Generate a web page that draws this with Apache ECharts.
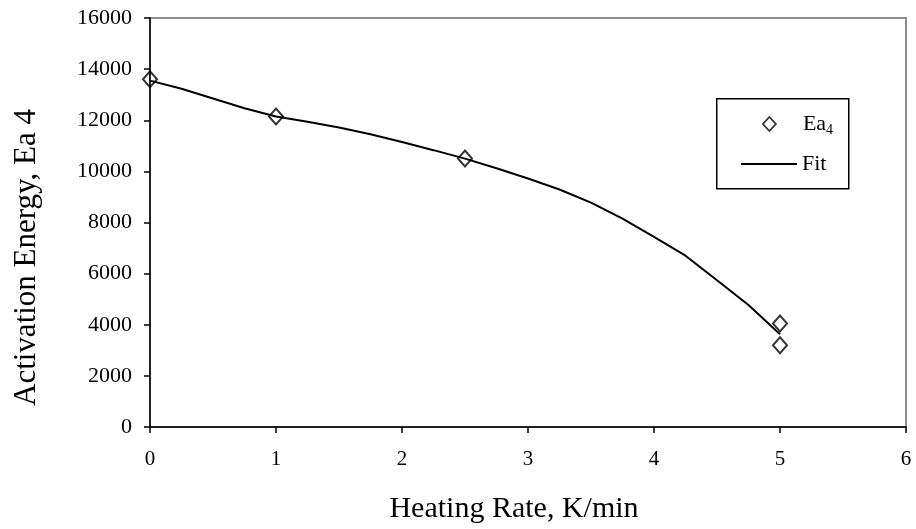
<!DOCTYPE html>
<html>
<head>
<meta charset="utf-8">
<script src="https://cdn.jsdelivr.net/npm/echarts@6/dist/echarts.min.js"></script>
<style>
html,body{margin:0;padding:0;background:#fff;}
#chart{width:916px;height:529px;}
</style>
</head>
<body>
<div id="chart"></div>
<script>
var ea4X = [0, 1, 2.5, 5, 5];
var ea4Y = [13600, 12150, 10500, 4050, 3200];
var fitX = [0, 0.25, 0.5, 0.75, 1, 1.25, 1.5, 1.75, 2, 2.25, 2.5, 2.75, 3, 3.25, 3.5, 3.75, 4, 4.25, 4.5, 4.75, 5];
var fitY = [13550, 13230, 12850, 12470, 12150, 11940, 11720, 11450, 11150, 10830, 10500, 10120, 9720, 9290, 8780, 8150, 7440, 6700, 5740, 4770, 3630];
var xTicks = [0, 1, 2, 3, 4, 5, 6];
var yTicks = [0, 2000, 4000, 6000, 8000, 10000, 12000, 14000, 16000];

var FONT = "'Liberation Serif', 'Times New Roman', serif";
var chart = echarts.init(document.getElementById('chart'));

var ea4Data = ea4X.map(function (x, i) { return [x, ea4Y[i]]; });
var fitData = fitX.map(function (x, i) { return [x, fitY[i]]; });

chart.setOption({
  backgroundColor: '#fff',
  animation: false,
  grid: {
    left: 150, right: 10, top: 18, bottom: 101,
    show: true, borderColor: '#8c8c8c', borderWidth: 2, backgroundColor: 'transparent'
  },
  xAxis: {
    type: 'value',
    min: xTicks[0], max: xTicks[xTicks.length - 1], interval: 1,
    name: 'Heating Rate, K/min',
    nameLocation: 'middle',
    nameGap: 67,
    nameTextStyle: { fontFamily: FONT, fontSize: 30, color: '#000', padding: [0, 28, 0, 0] },
    axisLine: { show: true, lineStyle: { color: '#000', width: 1.5 } },
    axisTick: { show: true, inside: false, length: 6, lineStyle: { color: '#000', width: 1.5 } },
    axisLabel: { fontFamily: FONT, fontSize: 21, color: '#000', margin: 22 },
    splitLine: { show: false }
  },
  yAxis: {
    type: 'value',
    min: yTicks[0], max: yTicks[yTicks.length - 1], interval: 2000,
    name: 'Activation Energy, Ea 4',
    nameLocation: 'middle',
    nameGap: 108,
    nameTextStyle: { fontFamily: FONT, fontSize: 31, color: '#000', padding: [0, 70, 0, 0] },
    axisLine: { show: true, lineStyle: { color: '#000', width: 1.5 } },
    axisTick: { show: true, inside: false, length: 6, lineStyle: { color: '#000', width: 1.5 } },
    axisLabel: { fontFamily: FONT, fontSize: 22, color: '#000', margin: 18, formatter: function (v) { return String(v); } },
    splitLine: { show: false }
  },
  legend: [
    {
      data: [{ name: 'Ea4', icon: 'diamond', itemStyle: { color: '#fff', borderColor: '#000', borderWidth: 1.8 } }],
      left: 762, top: 113, padding: 0, itemWidth: 13, itemHeight: 14,
      formatter: function () { return 'Ea{s|4}'; },
      textStyle: {
        fontFamily: FONT, fontSize: 22, color: '#000', padding: [0, 0, 0, 22],
        rich: { s: { fontFamily: FONT, fontSize: 14, color: '#000', padding: [12, 0, 0, 0] } }
      },
      selectedMode: false
    },
    {
      data: [{ name: 'Fit', icon: 'rect', itemStyle: { color: '#000' } }],
      left: 741, top: 153, padding: 0, itemWidth: 56, itemHeight: 2,
      textStyle: { fontFamily: FONT, fontSize: 22, color: '#000' },
      selectedMode: false
    }
  ],
  graphic: [{
    type: 'rect', left: 716, top: 98, z: 0,
    shape: { width: 132, height: 90 },
    style: { fill: '#fff', stroke: '#000', lineWidth: 1.5 }
  }],
  series: [
    {
      name: 'Fit', type: 'line', data: fitData, showSymbol: false, smooth: false,
      lineStyle: { color: '#000', width: 2 }, itemStyle: { color: '#000' }, z: 2
    },
    {
      name: 'Ea4', type: 'scatter', data: ea4Data, symbol: 'diamond', symbolSize: [14, 16],
      itemStyle: { color: 'rgba(255,255,255,0)', borderColor: '#000', borderWidth: 2 }, z: 3
    }
  ]
});
</script>
</body>
</html>
